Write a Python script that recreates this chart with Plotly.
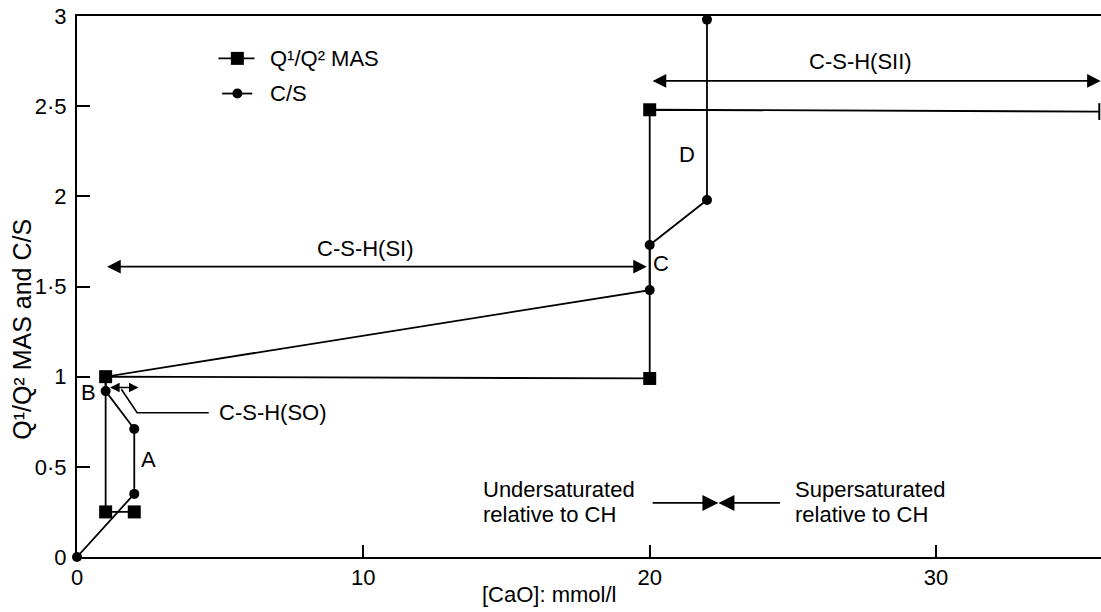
import plotly.graph_objects as go

# Q1/Q2 ratio from 29Si MAS NMR against calcium concentration
conc_q = [2, 1, 1, 20, 20, 35.7]
ratio_q = [0.25, 0.25, 1.0, 0.99, 2.48, 2.47]

# Ca/Si ratio of the solid against calcium concentration
conc_cs = [0, 2, 2, 1, 1, 20, 20, 22, 22]
ratio_cs = [0, 0.35, 0.71, 0.92, 1.0, 1.48, 1.73, 1.98, 2.98]

x_ticks = [0, 10, 20, 30]
y_ticks = [0, 0.5, 1, 1.5, 2, 2.5, 3]
y_tick_text = ["0", "0·5", "1", "1·5", "2", "2·5", "3"]

FONT = "Liberation Sans, Arial, Helvetica, sans-serif"
FS = 22
BLACK = "#000000"

fig = go.Figure()

fig.add_trace(go.Scatter(
    x=conc_cs, y=ratio_cs, mode="lines+markers",
    line=dict(color=BLACK, width=1.8),
    marker=dict(symbol="circle", size=10, color=BLACK),
    showlegend=False, cliponaxis=False,
))

# squares on every measured point; the series runs off the right edge
fig.add_trace(go.Scatter(
    x=conc_q, y=ratio_q, mode="lines",
    line=dict(color=BLACK, width=1.8),
    showlegend=False, cliponaxis=False,
))
fig.add_trace(go.Scatter(
    x=conc_q[:-1], y=ratio_q[:-1], mode="markers",
    marker=dict(symbol="square", size=13, color=BLACK),
    showlegend=False, cliponaxis=False,
))
fig.add_trace(go.Scatter(
    x=conc_q[-1:], y=ratio_q[-1:], mode="markers",
    marker=dict(symbol="line-ns", size=12, line=dict(color=BLACK, width=2)),
    showlegend=False, cliponaxis=False,
))

# hand-placed key in the upper left
key = [("Q¹/Q² MAS", "square", 13, 2.765, 4.94, 6.2),
       ("C/S", "circle", 10, 2.57, 5.07, 6.12)]
for label, sym, size, ky, x0, x1 in key:
    fig.add_trace(go.Scatter(x=[x0, x1], y=[ky, ky], mode="lines",
                             line=dict(color=BLACK, width=1.8),
                             showlegend=False, hoverinfo="skip"))
    fig.add_trace(go.Scatter(x=[5.6], y=[ky], mode="markers",
                             marker=dict(symbol=sym, size=size, color=BLACK),
                             showlegend=False, hoverinfo="skip"))
    fig.add_annotation(x=6.68, y=ky, text=label, showarrow=False,
                       xanchor="left", yanchor="middle",
                       font=dict(family=FONT, size=FS, color=BLACK))

# leader from the C-S-H(SO) label to its range arrow
fig.add_trace(go.Scatter(x=[1.55, 2.1, 4.6], y=[0.93, 0.80, 0.80], mode="lines",
                         line=dict(color=BLACK, width=1.6),
                         showlegend=False, hoverinfo="skip"))


def arrow(x_tip, x_tail, y, both=False, size=1.7):
    fig.add_annotation(x=x_tip, y=y, ax=x_tail, ay=y, xref="x", yref="y",
                       axref="x", ayref="y", text="", showarrow=True,
                       arrowhead=2, arrowsize=size, arrowwidth=1.6,
                       arrowcolor=BLACK,
                       arrowside="end+start" if both else "end")


arrow(19.9, 1.0, 1.61, both=True)            # C-S-H(SI)
arrow(35.75, 20.05, 2.64, both=True)         # C-S-H(SII)
arrow(2.15, 1.1, 0.94, both=True, size=1.2)  # C-S-H(SO)
arrow(22.4, 20.05, 0.30, size=2.0)           # undersaturated side
arrow(22.4, 24.6, 0.30, size=2.0)            # supersaturated side

labels = [
    ("A", 2.5, 0.54, "center"),
    ("B", 0.41, 0.91, "center"),
    ("C", 20.4, 1.63, "center"),
    ("D", 21.3, 2.23, "center"),
    ("C-S-H(SI)", 10.07, 1.71, "center"),
    ("C-S-H(SII)", 27.35, 2.75, "center"),
    ("C-S-H(SO)", 4.89, 0.80, "left"),
    ("Undersaturated", 14.12, 0.375, "left"),
    ("relative to CH", 14.12, 0.235, "left"),
    ("Supersaturated", 25.0, 0.375, "left"),
    ("relative to CH", 25.0, 0.235, "left"),
]
for text, x, y, anchor in labels:
    fig.add_annotation(x=x, y=y, text=text, showarrow=False,
                       xanchor=anchor, yanchor="middle", align="left",
                       font=dict(family=FONT, size=FS, color=BLACK))

# axis titles
fig.add_annotation(x=16.5, y=-0.069, xref="x", yref="paper",
                   text="[CaO]: mmol/l", showarrow=False,
                   xanchor="center", yanchor="middle",
                   font=dict(family=FONT, size=22, color=BLACK))
fig.add_annotation(x=-0.0537, y=1.26, xref="paper", yref="y",
                   text="Q¹/Q² MAS and C/S", showarrow=False, textangle=-90,
                   xanchor="center", yanchor="middle",
                   font=dict(family=FONT, size=25, color=BLACK))

fig.update_xaxes(range=[0, 35.76], tickvals=x_ticks, ticks="inside", ticklen=12,
                 tickwidth=1.5, tickcolor=BLACK, showline=True, linewidth=2,
                 linecolor=BLACK, mirror=True, showgrid=False, zeroline=False,
                 tickfont=dict(family=FONT, size=FS, color=BLACK))
fig.update_yaxes(range=[0, 3], tickvals=y_ticks, ticktext=y_tick_text,
                 ticks="inside", ticklen=13, tickwidth=1.5, tickcolor=BLACK,
                 showline=True, linewidth=2, linecolor=BLACK, showgrid=False,
                 zeroline=False, ticklabelstandoff=4,
                 tickfont=dict(family=FONT, size=FS, color=BLACK))

fig.update_layout(width=1101, height=612, plot_bgcolor="white",
                  paper_bgcolor="white",
                  margin=dict(l=77, r=0, t=16, b=55),
                  font=dict(family=FONT, size=FS, color=BLACK))

fig.write_html("out.html")
